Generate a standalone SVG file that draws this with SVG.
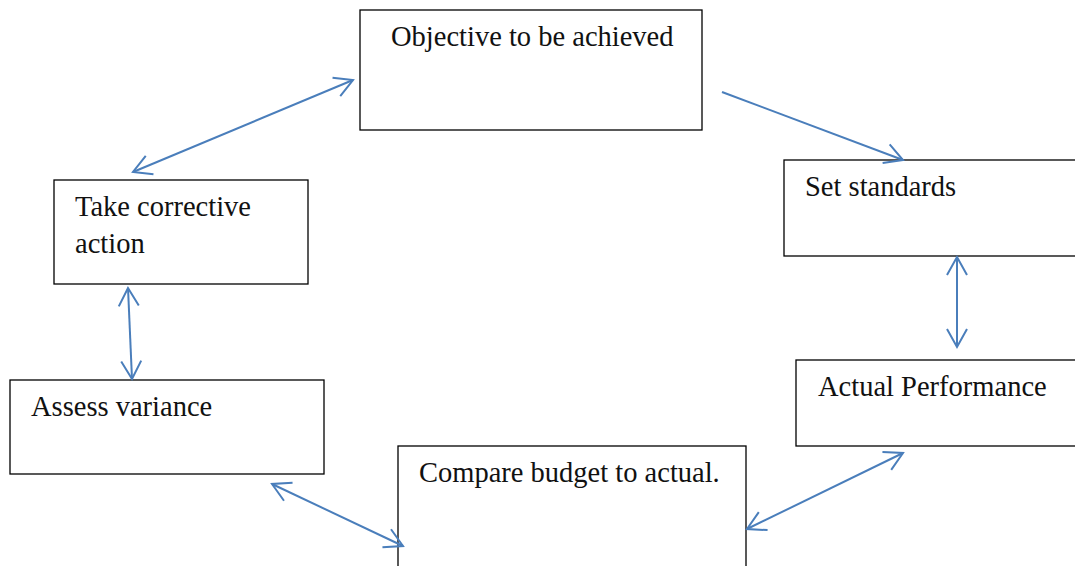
<svg xmlns="http://www.w3.org/2000/svg" width="1075" height="566" viewBox="0 0 1075 566">
  <style>
    .box { fill: #ffffff; stroke: #000000; stroke-width: 1.3; }
    .lbl { font-family: "Liberation Serif", "Times New Roman", serif; font-size: 28.5px; fill: #111111; }
    .link { fill: none; stroke: #4a7ebb; stroke-width: 2; }
  </style>
  <defs>
    <marker id="head" markerUnits="userSpaceOnUse" markerWidth="24" markerHeight="24" viewBox="-20 -12 24 24" refX="0" refY="0" orient="auto-start-reverse" overflow="visible">
      <path d="M -18 -10 L 0 0 L -18 10" fill="none" stroke="#4a7ebb" stroke-width="2"/>
    </marker>
  </defs>
  <rect width="1075" height="566" fill="#ffffff"/>

  <g id="objective">
    <rect class="box" x="360" y="10" width="342" height="120"/>
    <text class="lbl" x="391" y="46">Objective to be achieved</text>
  </g>

  <g id="set-standards">
    <rect class="box" x="784" y="160" width="300" height="96"/>
    <text class="lbl" x="805" y="196">Set standards</text>
  </g>

  <g id="actual-performance">
    <rect class="box" x="796" y="360" width="290" height="86"/>
    <text class="lbl" x="818" y="396">Actual Performance</text>
  </g>

  <g id="compare">
    <rect class="box" x="398" y="446" width="348" height="130"/>
    <text class="lbl" x="419" y="482">Compare budget to actual.</text>
  </g>

  <g id="assess-variance">
    <rect class="box" x="10" y="380" width="314" height="94"/>
    <text class="lbl" x="31" y="416">Assess variance</text>
  </g>

  <g id="corrective-action">
    <rect class="box" x="54" y="180" width="254" height="104"/>
    <text class="lbl" x="75" y="216">Take corrective</text>
    <text class="lbl" x="75" y="253">action</text>
  </g>

  <g id="connectors">
    <line class="link" x1="133" y1="172" x2="353" y2="80" marker-start="url(#head)" marker-end="url(#head)"/>
    <line class="link" x1="722" y1="92" x2="903" y2="160" marker-end="url(#head)"/>
    <line class="link" x1="957" y1="257" x2="957" y2="347" marker-start="url(#head)" marker-end="url(#head)"/>
    <line class="link" x1="903" y1="453" x2="747" y2="529" marker-start="url(#head)" marker-end="url(#head)"/>
    <line class="link" x1="403" y1="546" x2="272" y2="484" marker-start="url(#head)" marker-end="url(#head)"/>
    <line class="link" x1="128" y1="288" x2="132" y2="379" marker-start="url(#head)" marker-end="url(#head)"/>
  </g>
</svg>
